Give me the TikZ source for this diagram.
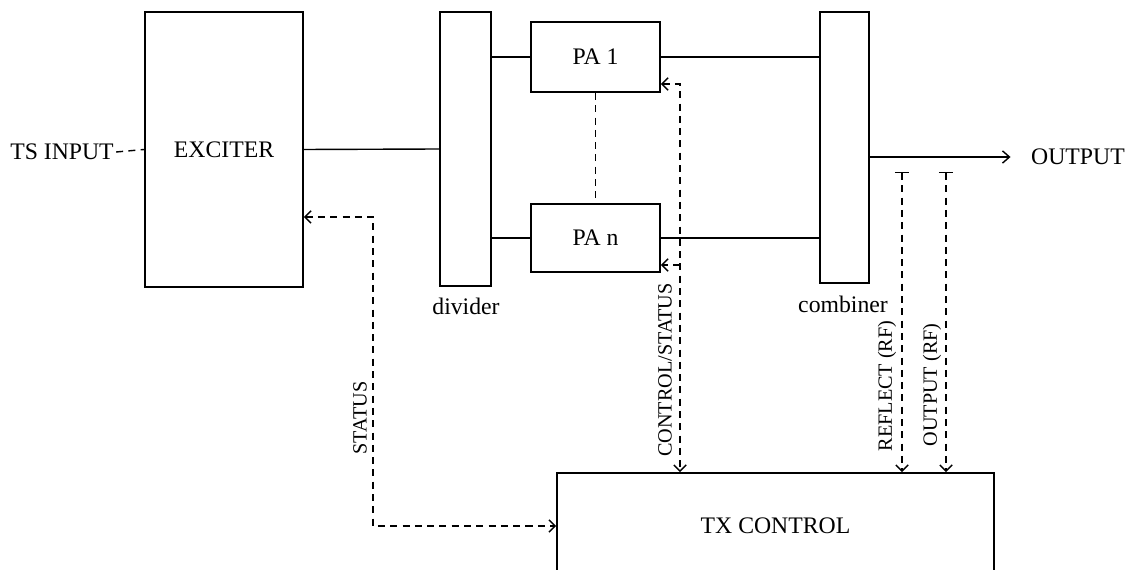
\documentclass[tikz,border=0pt]{standalone}
\usepackage{fontspec}
\setmainfont{Liberation Serif}
\usepackage{tikz}
\usetikzlibrary{arrows.meta}

\begin{document}
\begin{tikzpicture}[x=0.02cm, y=-0.02cm, line width=0.8pt,
        every node/.style={font=\fontsize{13.5}{16}\selectfont}]
        \tikzstyle{blockStyle} = [rectangle,draw=black,fill=white,inner sep=0pt,line width=1.1pt]
        \tikzstyle{rfLine} = [draw=black, line width=0.8pt]
        \tikzstyle{sigLine} = [draw=black, line width=0.8pt, dash pattern=on 4pt off 3pt,
            >={Straight Barb[length=3.5pt,width=7pt]}]
        \tikzstyle{rotLabel} = [rotate=90, inner sep=1pt, font=\fontsize{11.5}{14}\selectfont]
        \useasboundingbox (0,0) rectangle (1131,570);
        % blocks
        \node[blockStyle, minimum width=3.16cm, minimum height=5.5cm] (exciter) at (224,149.5) {EXCITER};
        \node[blockStyle, minimum width=1.02cm, minimum height=5.48cm] (divider) at (465.5,149) {};
        \node[blockStyle, minimum width=2.58cm, minimum height=1.4cm] (pa1) at (595.5,57) {PA 1};
        \node[blockStyle, minimum width=2.58cm, minimum height=1.36cm] (pan) at (595.5,238) {PA n};
        \node[blockStyle, minimum width=0.98cm, minimum height=5.42cm] (combiner) at (844.5,147.5) {};
        \node[blockStyle, minimum width=8.74cm, minimum height=2.12cm] (txctrl) at (775.5,526) {TX CONTROL};
        % labels
        \node[inner sep=1pt] (tsin) at (62,152) {TS INPUT};
        \node (divlbl) at (466,306) {divider};
        \node (comblbl) at (843,304) {combiner};
        \node[inner sep=0pt] (outlbl) at (1078,157) {OUTPUT};
        \node[rotLabel] (stlbl) at (360,418) {STATUS};
        \node[rotLabel] (cslbl) at (665,370) {CONTROL/STATUS};
        \node[rotLabel] (rfllbl) at (887,386) {REFLECT (RF)};
        \node[rotLabel] (ortlbl) at (932,385) {OUTPUT (RF)};
        % taps and corners
        \coordinate (csTop) at (680,84);
        \coordinate (csLow) at (680,265);
        \coordinate (stCorner) at (373,217);
        \coordinate (rflTap) at (902,172);
        \coordinate (ortTap) at (946,172);
        % rf path
        \path[rfLine] (exciter.east) edge (divider.west);
        \foreach \pa in {pa1,pan} {
            \path[rfLine] (divider.east |- \pa.west) edge (\pa.west);
            \path[rfLine] (\pa.east) edge (combiner.west |- \pa.east);
        }
        \draw[rfLine, -{Straight Barb[length=4pt,width=7pt]}, shorten >=0.4cm]
            (combiner.east |- outlbl) -- (outlbl.west);
        % control and status
        \draw[sigLine] (tsin.east) -- (exciter.west);
        \draw[sigLine] (pa1.south) -- (pan.north);
        \draw[sigLine, <->] (pa1.east |- csTop) -- (csTop) -- (csTop |- txctrl.north);
        \draw[sigLine, ->] (csLow) -- (pan.east |- csLow);
        \draw[sigLine, <->] (exciter.east |- stCorner) -- (stCorner) |- (txctrl.west);
        \foreach \tap in {rflTap,ortTap}
            \draw[sigLine, {Bar[width=8pt]}->] (\tap) -- (\tap |- txctrl.north);
    \end{tikzpicture}
\end{document}
